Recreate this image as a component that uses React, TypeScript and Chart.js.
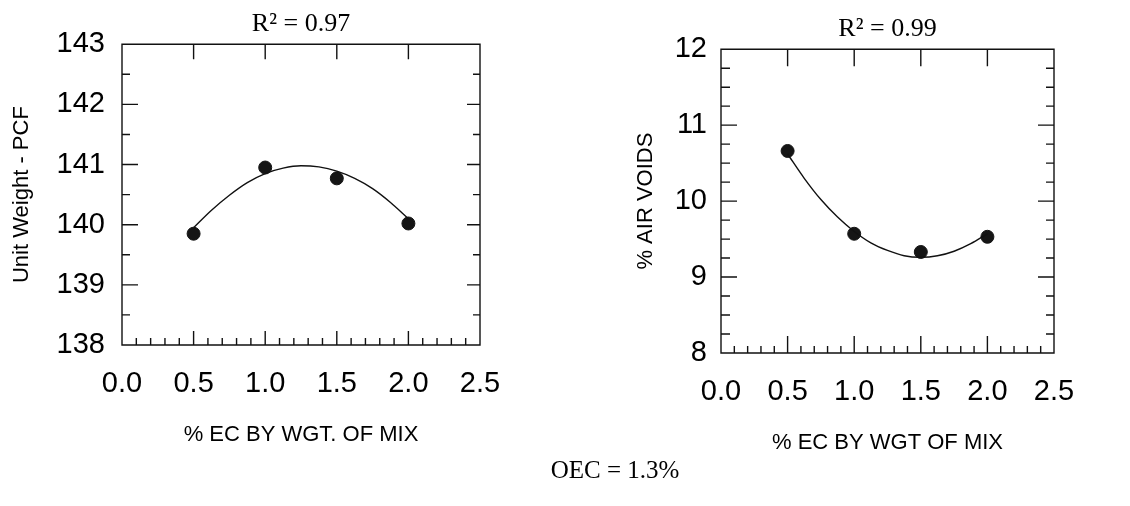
import React, { useEffect, useRef } from "react";
import { Chart, registerables } from "chart.js";

Chart.register(...registerables);

const FONT_SANS = "'Liberation Sans', Arial, Helvetica, sans-serif";
const FONT_SERIF = "'Liberation Serif', 'Times New Roman', serif";

// ---- data ----
const ecPercent = [0.5, 1.0, 1.5, 2.0];
const unitWeight = [139.85, 140.95, 140.77, 140.02];
const airVoids = [10.66, 9.57, 9.33, 9.53];

const fitX = [0.5, 0.625, 0.75, 0.875, 1.0, 1.125, 1.25, 1.375, 1.5, 1.625, 1.75, 1.875, 2.0];
const unitWeightFit = [139.95, 140.24, 140.49, 140.70, 140.85, 140.94, 140.98, 140.96, 140.89, 140.77, 140.60, 140.37, 140.10];
const airVoidsFit = [10.62, 10.30, 10.02, 9.79, 9.60, 9.45, 9.35, 9.28, 9.26, 9.28, 9.34, 9.44, 9.57];

const xTickLabels = ["0.0", "0.5", "1.0", "1.5", "2.0", "2.5"];
const xMajorInner = [0.5, 1.0, 1.5, 2.0];
const xMinor = [0.1, 0.2, 0.3, 0.4, 0.6, 0.7, 0.8, 0.9, 1.1, 1.2, 1.3, 1.4, 1.6, 1.7, 1.8, 1.9, 2.1, 2.2, 2.3, 2.4];
const unitWeightMajor = [139, 140, 141, 142];
const unitWeightMinor = [138.5, 139.5, 140.5, 141.5, 142.5];
const airVoidsMajor = [9, 10, 11];
const airVoidsMinor = [8.25, 8.5, 8.75, 9.25, 9.5, 9.75, 10.25, 10.5, 10.75, 11.25, 11.5, 11.75];

const titles = {
  left: "R\u00B2 = 0.97",
  right: "R\u00B2 = 0.99",
  leftY: "Unit Weight - PCF",
  rightY: "% AIR VOIDS",
  leftX: "% EC BY WGT. OF MIX",
  rightX: "% EC BY WGT OF MIX",
  footer: "OEC = 1.3%",
};

// ---- frame + inward ticks plugin ----
const frameTicksPlugin = {
  id: "frameTicks",
  afterDatasetsDraw(chart: any, _args: any, opts: any) {
    const { ctx, chartArea, scales } = chart;
    const { left, right, top, bottom } = chartArea;
    const x = scales.x;
    const y = scales.y;
    ctx.save();
    ctx.strokeStyle = "#111";
    ctx.lineWidth = 1.4;
    ctx.beginPath();
    ctx.rect(left, top, right - left, bottom - top);
    ctx.stroke();
    ctx.beginPath();
    const seg = (x1: number, y1: number, x2: number, y2: number) => {
      ctx.moveTo(x1, y1);
      ctx.lineTo(x2, y2);
    };
    opts.xMinor.forEach((v: number) => {
      const px = x.getPixelForValue(v);
      seg(px, bottom, px, bottom - opts.bottomMinorLen);
    });
    opts.xMajor.forEach((v: number) => {
      const px = x.getPixelForValue(v);
      seg(px, bottom, px, bottom - opts.bottomMajorLen);
      seg(px, top, px, top + opts.topLen);
    });
    opts.yMajor.forEach((v: number) => {
      const py = y.getPixelForValue(v);
      seg(left, py, left + opts.leftMajorLen, py);
      seg(right, py, right - opts.rightMajorLen, py);
    });
    opts.yMinor.forEach((v: number) => {
      const py = y.getPixelForValue(v);
      seg(left, py, left + opts.leftMinorLen, py);
      seg(right, py, right - opts.rightMinorLen, py);
    });
    ctx.stroke();
    ctx.restore();
  },
};

type PanelProps = {
  width: number;
  height: number;
  title: string;
  titlePad: { top: number; bottom: number };
  xTitle: string;
  xTitlePadBottom: number;
  xLabelPad: number;
  xHeight: number;
  yTitle: string;
  yTitlePadTop: number;
  yLabelPad: number;
  yWidth: number;
  rightPad: number;
  yMin: number;
  yMax: number;
  points: number[];
  fit: number[];
  ticks: any;
};

function Panel(p: PanelProps) {
  const ref = useRef<HTMLCanvasElement | null>(null);
  useEffect(() => {
    if (!ref.current) return;
    const tickFont = { family: FONT_SANS, size: 29 };
    const chart = new Chart(ref.current, {
      type: "scatter",
      data: {
        datasets: [
          {
            data: fitX.map((v, i) => ({ x: v, y: p.fit[i] })),
            showLine: true,
            borderColor: "#111",
            borderWidth: 1.4,
            pointRadius: 0,
            cubicInterpolationMode: "monotone",
            fill: false,
          } as any,
          {
            data: ecPercent.map((v, i) => ({ x: v, y: p.points[i] })),
            pointRadius: 6.5,
            pointBackgroundColor: "#151515",
            pointBorderColor: "#151515",
            pointBorderWidth: 1,
            showLine: false,
          } as any,
        ],
      },
      options: {
        animation: false,
        responsive: false,
        layout: { padding: { left: 0, right: p.rightPad, top: 0, bottom: 0 } },
        plugins: {
          legend: { display: false },
          tooltip: { enabled: false },
          title: {
            display: true,
            text: p.title,
            color: "#000",
            fullSize: false,
            font: { family: FONT_SERIF, size: 26, weight: "normal" },
            padding: p.titlePad,
          },
          frameTicks: p.ticks,
        } as any,
        scales: {
          x: {
            type: "linear",
            min: 0,
            max: 2.5,
            ticks: {
              stepSize: 0.5,
              autoSkip: false,
              maxRotation: 0,
              padding: p.xLabelPad,
              color: "#000",
              font: tickFont,
              callback: (_v: any, i: number) => xTickLabels[i],
            },
            grid: { display: false, drawTicks: false },
            border: { display: false },
            title: {
              display: true,
              text: p.xTitle,
              color: "#000",
              font: { family: FONT_SANS, size: 22 },
              padding: { top: 0, bottom: p.xTitlePadBottom },
            },
            afterFit: (s: any) => {
              s.height = p.xHeight;
            },
          },
          y: {
            type: "linear",
            min: p.yMin,
            max: p.yMax,
            ticks: {
              stepSize: 1,
              padding: p.yLabelPad,
              color: "#000",
              font: tickFont,
            },
            grid: { display: false, drawTicks: false },
            border: { display: false },
            title: {
              display: true,
              text: p.yTitle,
              color: "#000",
              font: { family: FONT_SANS, size: 22 },
              padding: { top: p.yTitlePadTop, bottom: 0 },
            },
            afterFit: (s: any) => {
              s.width = p.yWidth;
            },
          },
        },
      } as any,
      plugins: [frameTicksPlugin],
    });
    return () => chart.destroy();
  }, []);
  return (
    <canvas
      ref={ref}
      width={p.width}
      height={p.height}
      style={{ width: p.width, height: p.height, display: "block" }}
    />
  );
}

export default function App() {
  return (
    <div
      style={{
        position: "fixed",
        left: 0,
        top: 0,
        width: 1130,
        height: 506,
        background: "#fff",
        overflow: "hidden",
      }}
    >
      <div style={{ position: "absolute", left: 0, top: 0 }}>
        <Panel
          width={560}
          height={506}
          title={titles.left}
          titlePad={{ top: 9, bottom: 4 }}
          xTitle={titles.leftX}
          xTitlePadBottom={58}
          xLabelPad={22}
          xHeight={161}
          yTitle={titles.leftY}
          yTitlePadTop={9}
          yLabelPad={17}
          yWidth={122}
          rightPad={80}
          yMin={138}
          yMax={143}
          points={unitWeight}
          fit={unitWeightFit}
          ticks={{
            xMinor: xMinor,
            xMajor: xMajorInner,
            yMajor: unitWeightMajor,
            yMinor: unitWeightMinor,
            bottomMinorLen: 7,
            bottomMajorLen: 14,
            topLen: 15,
            leftMajorLen: 16,
            leftMinorLen: 8,
            rightMajorLen: 13,
            rightMinorLen: 7,
          }}
        />
      </div>
      <div style={{ position: "absolute", left: 560, top: 0 }}>
        <Panel
          width={570}
          height={506}
          title={titles.right}
          titlePad={{ top: 14, bottom: 4 }}
          xTitle={titles.rightX}
          xTitlePadBottom={50}
          xLabelPad={22}
          xHeight={153}
          yTitle={titles.rightY}
          yTitlePadTop={73}
          yLabelPad={14}
          yWidth={161}
          rightPad={76}
          yMin={8}
          yMax={12}
          points={airVoids}
          fit={airVoidsFit}
          ticks={{
            xMinor: xMinor,
            xMajor: xMajorInner,
            yMajor: airVoidsMajor,
            yMinor: airVoidsMinor,
            bottomMinorLen: 7,
            bottomMajorLen: 17,
            topLen: 17,
            leftMajorLen: 16,
            leftMinorLen: 9,
            rightMajorLen: 16,
            rightMinorLen: 8,
          }}
        />
      </div>
      <div
        style={{
          position: "absolute",
          left: 615,
          top: 455,
          transform: "translateX(-50%)",
          fontFamily: FONT_SERIF,
          fontSize: 25,
          lineHeight: "30px",
          color: "#000",
          whiteSpace: "nowrap",
        }}
      >
        {titles.footer}
      </div>
    </div>
  );
}
